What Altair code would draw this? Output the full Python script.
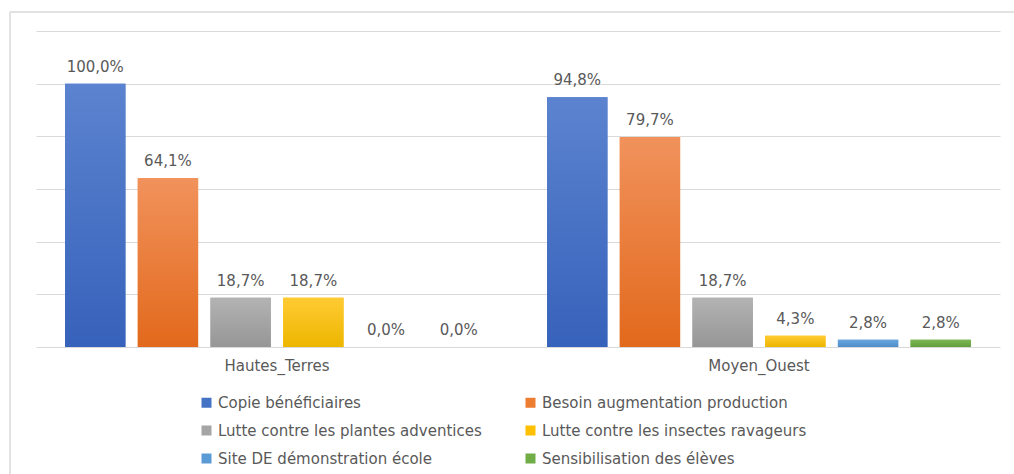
import altair as alt
import pandas as pd

groups = ["Hautes_Terres", "Moyen_Ouest"]
series = [
    "Copie bénéficiaires",
    "Besoin augmentation production",
    "Lutte contre les plantes adventices",
    "Lutte contre les insectes ravageurs",
    "Site DE démonstration école",
    "Sensibilisation des élèves",
]
hautes_terres = [100.0, 64.1, 18.7, 18.7, 0.0, 0.0]
moyen_ouest = [94.8, 79.7, 18.7, 4.3, 2.8, 2.8]
colors = ["#4472C4", "#ED7D31", "#A5A5A5", "#FFC000", "#5B9BD5", "#70AD47"]
tops = ["#5B83CF", "#F1925C", "#B3B3B3", "#FFCB33", "#6AA6DC", "#7DB656"]
bottoms = ["#3762BB", "#E2691C", "#969696", "#EDB600", "#4E8DCB", "#63A03C"]
# legend entries listed column by column (3 rows x 2 columns)
legend_order = [series[0], series[2], series[4], series[1], series[3], series[5]]

rows = []
for g, vals in zip(groups, [hautes_terres, moyen_ouest]):
    for s, v in zip(series, vals):
        rows.append({"groupe": g, "serie": s, "valeur": v,
                     "label": f"{v:.1f}".replace(".", ",") + "%"})
df = pd.DataFrame(rows)

W, H = 964, 316
FONT = "DejaVu Sans"
TXT = "#595959"

x_enc = alt.X("groupe:N", sort=groups,
              scale=alt.Scale(paddingInner=0, paddingOuter=0),
              axis=alt.Axis(title=None, labelAngle=0, domain=False, ticks=False,
                            labelPadding=11, labelFont=FONT,
                            labelFontSize=15, labelColor=TXT))
xo_enc = alt.XOffset("serie:N", sort=series,
                     scale=alt.Scale(paddingInner=0.17, paddingOuter=0.4))
y_enc = alt.Y("valeur:Q", scale=alt.Scale(domain=[0, 120]),
              axis=alt.Axis(title=None, labels=False, ticks=False, domain=False,
                            values=[0, 20, 40, 60, 80, 100, 120],
                            grid=True, gridColor="#D9D9D9", gridWidth=1.2))

base = alt.Chart(df)

bars = base.mark_bar().encode(
    x=x_enc, xOffset=xo_enc, y=y_enc,
    color=alt.Color("serie:N", sort=series,
                    scale=alt.Scale(domain=series, range=colors),
                    legend=alt.Legend(title=None, orient="none", columns=2,
                                      values=legend_order,
                                      legendX=163, legendY=364,
                                      symbolType="square", symbolSize=100,
                                      symbolStrokeWidth=0,
                                      labelFont=FONT, labelFontSize=15,
                                      labelColor=TXT, labelOffset=4,
                                      columnPadding=41, rowPadding=12,
                                      labelLimit=400)),
)

grad_layers = []
for s, t, b in zip(series, tops, bottoms):
    grad_layers.append(
        base.transform_filter(alt.datum.serie == s).mark_bar(
            color=alt.Gradient(gradient="linear", x1=0, y1=0, x2=0, y2=1,
                               stops=[alt.GradientStop(color=t, offset=0),
                                      alt.GradientStop(color=b, offset=1)])
        ).encode(x=x_enc, xOffset=xo_enc, y=y_enc)
    )

texts = base.mark_text(baseline="middle", dy=-17, font=FONT,
                       fontSize=15, color=TXT).encode(
    x=x_enc, xOffset=xo_enc, y=y_enc, text="label:N")

border_data = alt.Data(values=[{"a": 1}])
top_line = alt.Chart(border_data).mark_rule(color="#D9D9D9", strokeWidth=1.5).encode(
    x=alt.value(-26), x2=alt.value(990), y=alt.value(-19))
left_line = alt.Chart(border_data).mark_rule(color="#D9D9D9", strokeWidth=1.5).encode(
    x=alt.value(-26), y=alt.value(-19), y2=alt.value(450))

chart = alt.layer(bars, *grad_layers, texts, top_line, left_line).properties(
    width=W, height=H,
    background="white",
    autosize=alt.AutoSizeParams(type="none"),
    padding={"left": 36, "top": 31, "right": 14, "bottom": 127},
).configure_view(stroke=None)

chart.save("out.html", embed_options={"renderer": "svg", "actions": False})
